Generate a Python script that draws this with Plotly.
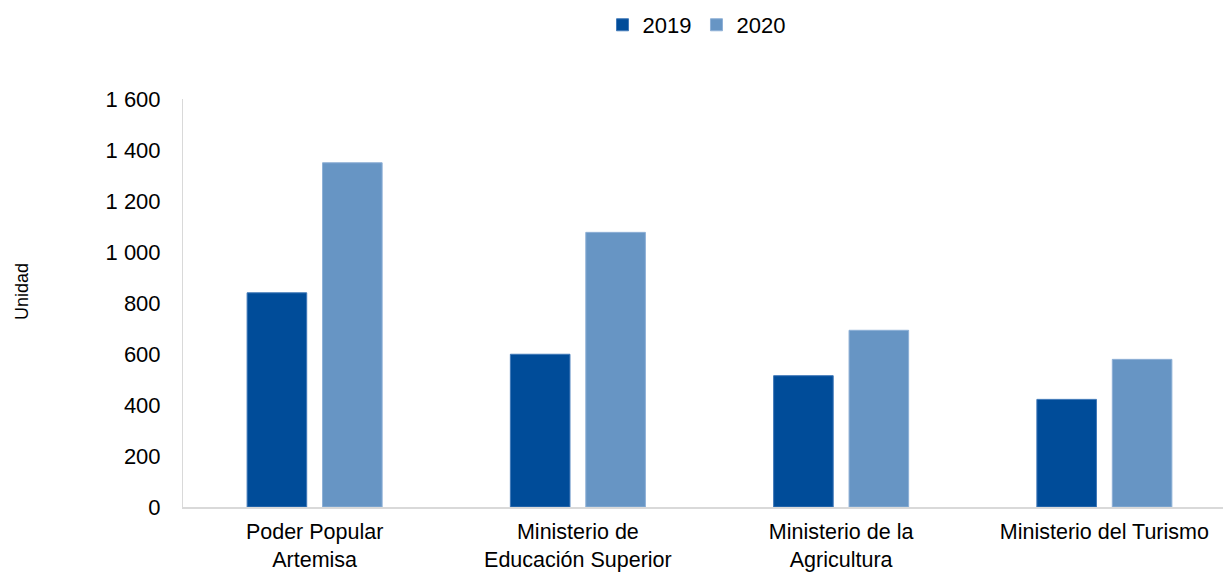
import plotly.graph_objects as go

categories = ["Poder Popular<br>Artemisa", "Ministerio de<br>Educación Superior",
              "Ministerio de la<br>Agricultura", "Ministerio del Turismo"]
values_2019 = [840, 599, 515, 422]
values_2020 = [1350, 1077, 693, 579]
tick_vals = [0, 200, 400, 600, 800, 1000, 1200, 1400, 1600]
tick_text = ["0", "200", "400", "600", "800", "1 000", "1 200", "1 400", "1 600"]

FONT = "Liberation Sans, Arial, sans-serif"
fig = go.Figure()
fig.add_trace(go.Bar(name="2019", x=categories, y=values_2019,
                     marker=dict(color="#004C99", line=dict(color="#3F78B8", width=1))))
fig.add_trace(go.Bar(name="2020", x=categories, y=values_2020,
                     marker=dict(color="#6795C4", line=dict(color="#8EB0D6", width=1))))

fig.update_layout(
    width=1223, height=566,
    margin=dict(l=175, r=0, t=91, b=67),
    paper_bgcolor="white", plot_bgcolor="white",
    barmode="group", bargap=0.427, bargroupgap=0.21,
    font=dict(family=FONT, size=22, color="#000000"),
    legend=dict(orientation="h", x=0.49, y=0.97, xref="paper", yref="container",
                xanchor="center", yanchor="middle",
                font=dict(size=22), itemwidth=30, traceorder="normal"),
    xaxis=dict(range=[-0.5, 3.481], showline=True, linecolor="#D9D9D9", linewidth=2,
               ticks="outside", ticklen=4, tickcolor="rgba(0,0,0,0)", showgrid=False,
               tickfont=dict(size=21.5), automargin=False),
    yaxis=dict(range=[0, 1600], tickvals=tick_vals, ticktext=tick_text,
               showline=True, linecolor="#D9D9D9", linewidth=1, showgrid=False,
               ticks="outside", ticklen=17, tickcolor="rgba(0,0,0,0)",
               tickfont=dict(size=22), automargin=False),
    annotations=[dict(text="Unidad", xref="paper", yref="paper", x=-0.1536, y=0.527,
                      xanchor="center", yanchor="middle", textangle=-90,
                      showarrow=False, font=dict(size=18))],
)
fig.write_html("out.html")
